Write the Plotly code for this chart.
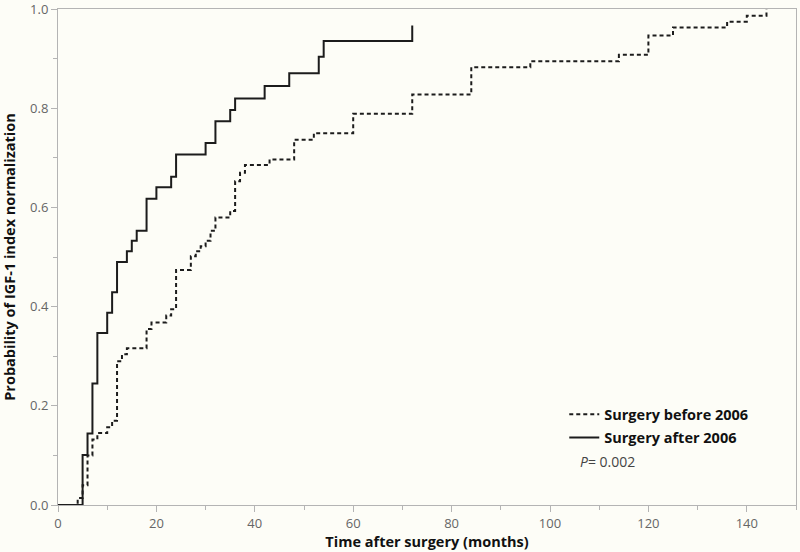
import plotly.graph_objects as go

# ---- data ----
months_after = [0, 5, 6, 7, 8, 10, 11, 12, 14, 15, 16, 18, 20, 23, 24, 30, 32, 35, 36, 42, 47, 53, 54, 72]
prob_after = [0.0, 0.101, 0.144, 0.245, 0.347, 0.388, 0.429, 0.490, 0.512, 0.533, 0.553, 0.618, 0.641, 0.662,
              0.707, 0.730, 0.774, 0.797, 0.820, 0.845, 0.871, 0.904, 0.936, 0.967]

months_before = [0, 4, 5, 6, 7, 8, 10, 11, 12, 13, 14, 18, 19, 22, 23, 24, 27, 28, 29, 30, 31, 32, 35, 36,
                 37, 38, 43, 48, 52, 60, 72, 84, 96, 114, 120, 125, 136, 140, 144]
prob_before = [0.0, 0.014, 0.040, 0.100, 0.132, 0.145, 0.157, 0.170, 0.290, 0.304, 0.316, 0.355, 0.368, 0.382,
               0.395, 0.474, 0.502, 0.512, 0.522, 0.533, 0.553, 0.580, 0.593, 0.653,
               0.670, 0.686, 0.697, 0.737, 0.750, 0.789, 0.828, 0.883, 0.895, 0.908, 0.947, 0.963, 0.975, 0.987, 1.0]

label_before = "Surgery before 2006"
label_after = "Surgery after 2006"
p_text = "<i>P</i>= 0.002"
x_title = "Time after surgery (months)"
y_title = "Probability of IGF-1 index normalization"

x_ticks = [0, 20, 40, 60, 80, 100, 120, 140]
y_ticks = [0.0, 0.2, 0.4, 0.6, 0.8, 1.0]

BG = "#fdfdf7"
AX = "#b4b4b4"
INK = "#1c1c1c"
FONT = "Open Sans, Segoe UI, sans-serif"

fig = go.Figure()
fig.add_trace(go.Scatter(
    x=months_before, y=prob_before, mode="lines", line_shape="hv", name=label_before,
    line=dict(color=INK, width=2, dash="4px,3px"), legend="legend", showlegend=True))
fig.add_trace(go.Scatter(
    x=months_after, y=prob_after, mode="lines", line_shape="hv", name=label_after,
    line=dict(color=INK, width=2), legend="legend2", showlegend=True))

legend_font = dict(family=FONT, size=14.5, color="#111111", weight="bold")
fig.update_layout(
    width=800, height=552,
    margin=dict(l=58, r=4, t=9, b=47, autoexpand=False),
    paper_bgcolor=BG, plot_bgcolor=BG,
    showlegend=True,
    font=dict(family=FONT, color="#555555", size=13),
    legend=dict(x=0.686, xanchor="left", y=0.183, yanchor="middle", bgcolor="rgba(0,0,0,0)",
                font=legend_font, borderwidth=0),
    legend2=dict(x=0.686, xanchor="left", y=0.136, yanchor="middle", bgcolor="rgba(0,0,0,0)",
                 font=legend_font, borderwidth=0),
    annotations=[dict(x=0.7046, y=0.087, xref="paper", yref="paper", xanchor="left", yanchor="middle",
                      text=p_text, showarrow=False, font=dict(family=FONT, size=14, color="#444444"))],
)

fig.update_xaxes(
    range=[0, 150], tickvals=x_ticks, showgrid=False, zeroline=False, automargin=False,
    showline=True, linecolor=AX, linewidth=1, mirror=True, ticklabeloverflow="allow",
    ticks="outside", ticklen=6, tickcolor=AX, tickfont=dict(size=13, color="#666666"),
    minor=dict(dtick=10, tick0=0, ticks="outside", ticklen=4, tickcolor=AX, showgrid=False),
    title=dict(text=x_title, font=dict(family=FONT, size=14.5, color="#111111", weight="bold"), standoff=5),
)
fig.update_yaxes(
    range=[0, 1.0005], tickvals=y_ticks, tickformat=".1f", showgrid=False, zeroline=False, automargin=False,
    showline=True, linecolor=AX, linewidth=1, mirror=True, ticklabeloverflow="allow",
    ticks="outside", ticklen=6, tickcolor=AX, tickfont=dict(size=13, color="#666666"),
    minor=dict(dtick=0.1, tick0=0, ticks="outside", ticklen=4, tickcolor=AX, showgrid=False),
    title=dict(text=y_title, font=dict(family=FONT, size=14.5, color="#111111", weight="bold"), standoff=11),
)

fig.write_html("out.html", config={"displayModeBar": False},
               post_script="document.body.style.margin='0';document.body.style.padding='0';")
